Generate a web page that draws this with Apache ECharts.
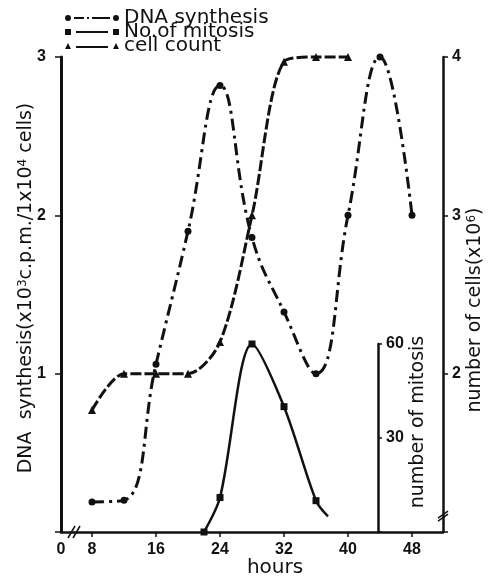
<!DOCTYPE html>
<html>
<head>
<meta charset="utf-8">
<script src="https://cdn.jsdelivr.net/npm/echarts@6.0.0/dist/echarts.min.js"></script>
<style>
  html, body { margin: 0; padding: 0; background: #fff; }
  #chart { width: 489px; height: 578px; }
</style>
</head>
<body>
<div id="chart"></div>
<script>
// hours axis is broken near the origin, so its left end is labelled 0
const xMin = 4.125;
const xMax = 51.875;
const xTicks = [8, 16, 24, 32, 40, 48];

const dnaHours = [8, 12, 16, 20, 24, 28, 32, 36, 40, 44, 48];
const dnaSynthesis = [0.19, 0.2, 1.06, 1.9, 2.82, 1.86, 1.39, 1.0, 2.0, 3.0, 2.0];

const mitosisHours = [22, 24, 28, 32, 36, 37.5];
const mitosisCount = [0, 11, 60, 40, 10, 5];
const mitosisMarked = [true, true, true, true, true, false];

const cellHours = [8, 12, 16, 20, 24, 28, 32, 36, 40];
const cellCount = [1.77, 2.0, 2.0, 2.0, 2.2, 3.0, 3.97, 4.0, 4.0];

const ink = "#111";
const labelFont = { color: ink, fontFamily: "Liberation Sans", fontWeight: "bold", fontSize: 16 };
const nameFont = { color: ink, fontFamily: "DejaVu Sans", fontSize: 19 };
const supStyle = { sup: { fontFamily: "DejaVu Sans", fontSize: 12, color: ink, verticalAlign: "top", padding: [0, 0, 6, 0] } };

// legend icons: marker - line - marker
const dnaIcon = "path://M0,3a3,3 0 1,0 6,0a3,3 0 1,0 -6,0ZM9,2h10v2h-10ZM22,2h2v2h-2ZM27,2h18v2h-18ZM48,3a3,3 0 1,0 6,0a3,3 0 1,0 -6,0Z";
const mitosisIcon = "path://M0,0h6v6h-6ZM11,2h32v2h-32ZM48,0h6v6h-6Z";
const cellIcon = "path://M0,6L3,0L6,6ZM11,3h32v2h-32ZM48,6L51,0L54,6Z";

function pairs(xs, ys) {
  return xs.map((x, i) => [x, ys[i]]);
}

const chart = echarts.init(document.getElementById("chart"));

const option = {
  animation: false,
  backgroundColor: "#fff",
  legend: {
    orient: "vertical",
    left: 60,
    top: 3,
    itemGap: -6,
    itemWidth: 54,
    itemHeight: 6,
    selectedMode: false,
    textStyle: { color: ink, fontFamily: "DejaVu Sans", fontSize: 20, lineHeight: 14 },
    data: [
      { name: "DNA synthesis", icon: dnaIcon },
      { name: "No.of mitosis", icon: mitosisIcon },
      { name: "cell count", icon: cellIcon }
    ]
  },
  grid: [
    { left: 61, right: 46, top: 57, bottom: 46, outerBoundsMode: "none" },
    { left: 61, right: 46, top: 344, bottom: 46, outerBoundsMode: "none" }
  ],
  xAxis: [
    {
      type: "value",
      gridIndex: 0,
      min: xMin,
      max: xMax,
      name: "hours",
      nameLocation: "middle",
      nameGap: 26,
      nameMoveOverlap: false,
      nameTextStyle: { color: ink, fontFamily: "DejaVu Sans", fontSize: 20, padding: [0, 0, 0, 46] },
      axisLine: { lineStyle: { color: ink, width: 2.5 } },
      axisTick: { customValues: xTicks, length: 5, lineStyle: { color: ink, width: 1.5 } },
      axisLabel: {
        customValues: [xMin].concat(xTicks),
        formatter: (v) => (v === xMin ? "0" : String(v)),
        margin: 10,
        ...labelFont
      },
      splitLine: { show: false }
    },
    {
      type: "value",
      gridIndex: 1,
      min: xMin,
      max: xMax,
      show: false
    }
  ],
  yAxis: [
    {
      type: "value",
      gridIndex: 0,
      position: "left",
      min: 0,
      max: 3,
      interval: 1,
      name: "DNA  synthesis(x10{sup|3}c.p.m./1x10{sup|4} cells)",
      nameLocation: "middle",
      nameGap: 25,
      nameMoveOverlap: false,
      nameTextStyle: { ...nameFont, padding: [0, 0, 0, 13], rich: supStyle },
      axisLine: { show: true, lineStyle: { color: ink, width: 3 } },
      axisTick: { show: true, length: 6, lineStyle: { color: ink, width: 1.5 } },
      axisLabel: { formatter: (v) => (v === 0 ? "" : String(v)), margin: 15, ...labelFont },
      splitLine: { show: false }
    },
    {
      type: "value",
      gridIndex: 0,
      position: "right",
      min: 1,
      max: 4,
      interval: 1,
      name: "number of cells(x10{sup|6})",
      nameLocation: "middle",
      nameGap: 23,
      nameMoveOverlap: false,
      nameTextStyle: { ...nameFont, padding: [0, 31, 0, 0], rich: supStyle },
      axisLine: { show: true, lineStyle: { color: ink, width: 2.5 } },
      axisTick: { show: true, length: 5, lineStyle: { color: ink, width: 1.5 } },
      axisLabel: { formatter: (v) => (v === 1 ? "" : String(v)), margin: 9, ...labelFont },
      splitLine: { show: false }
    },
    {
      type: "value",
      gridIndex: 1,
      position: "right",
      offset: -65,
      min: 0,
      max: 60,
      interval: 30,
      name: "number of mitosis",
      nameLocation: "middle",
      nameGap: 31,
      nameMoveOverlap: false,
      nameTextStyle: { ...nameFont, padding: [0, 0, 0, 32] },
      axisLine: { show: true, lineStyle: { color: ink, width: 2.5 } },
      axisTick: { show: true, length: 4, lineStyle: { color: ink, width: 1.5 } },
      axisLabel: { formatter: (v) => (v === 0 ? "" : String(v)), margin: 8, ...labelFont },
      splitLine: { show: false }
    }
  ],
  series: [
    {
      name: "DNA synthesis",
      type: "line",
      xAxisIndex: 0,
      yAxisIndex: 0,
      data: pairs(dnaHours, dnaSynthesis),
      smooth: 0.45,
      symbol: "circle",
      symbolSize: 7,
      itemStyle: { color: ink },
      lineStyle: { color: ink, width: 3, type: [12, 5, 3, 5] },
      clip: false
    },
    {
      name: "No.of mitosis",
      type: "line",
      xAxisIndex: 1,
      yAxisIndex: 2,
      data: mitosisHours.map((h, i) => ({
        value: [h, mitosisCount[i]],
        symbol: mitosisMarked[i] ? "rect" : "none"
      })),
      smooth: 0.3,
      symbol: "rect",
      symbolSize: 7,
      itemStyle: { color: ink },
      lineStyle: { color: ink, width: 2.5 },
      clip: false
    },
    {
      name: "cell count",
      type: "line",
      xAxisIndex: 0,
      yAxisIndex: 1,
      data: pairs(cellHours, cellCount),
      smooth: 0.3,
      symbol: "triangle",
      symbolSize: 8,
      itemStyle: { color: ink },
      lineStyle: { color: ink, width: 3, type: [11, 3] },
      clip: false
    }
  ]
};

chart.setOption(option);

// axis break marks ("//") on the hours axis and the cell axis
function breakMark(p, horizontal) {
  const gap = horizontal
    ? { type: "rect", shape: { x: p[0] - 4, y: p[1] - 3, width: 7, height: 6 } }
    : { type: "rect", shape: { x: p[0] - 3, y: p[1] - 3, width: 6, height: 6 } };
  gap.style = { fill: "#fff" };
  const a = { type: "line", shape: { x1: p[0] - 8, y1: p[1] + 6, x2: p[0] - 1, y2: p[1] - 6 } };
  const b = { type: "line", shape: { x1: p[0] - 3, y1: p[1] + 6, x2: p[0] + 4, y2: p[1] - 6 } };
  a.style = b.style = { stroke: ink, lineWidth: 1.5 };
  return { type: "group", children: [gap, a, b] };
}
const xBreak = chart.convertToPixel({ xAxisIndex: 0, yAxisIndex: 0 }, [6, 0]);
const yBreak = chart.convertToPixel({ xAxisIndex: 0, yAxisIndex: 1 }, [xMax, 1.1]);
const yMark = breakMark(yBreak, false);
yMark.children[1].shape = { x1: yBreak[0] - 5, y1: yBreak[1] + 2, x2: yBreak[0] + 5, y2: yBreak[1] - 5 };
yMark.children[2].shape = { x1: yBreak[0] - 5, y1: yBreak[1] + 5, x2: yBreak[0] + 5, y2: yBreak[1] - 2 };
chart.setOption({ graphic: [breakMark(xBreak, true), yMark] });
</script>
</body>
</html>
